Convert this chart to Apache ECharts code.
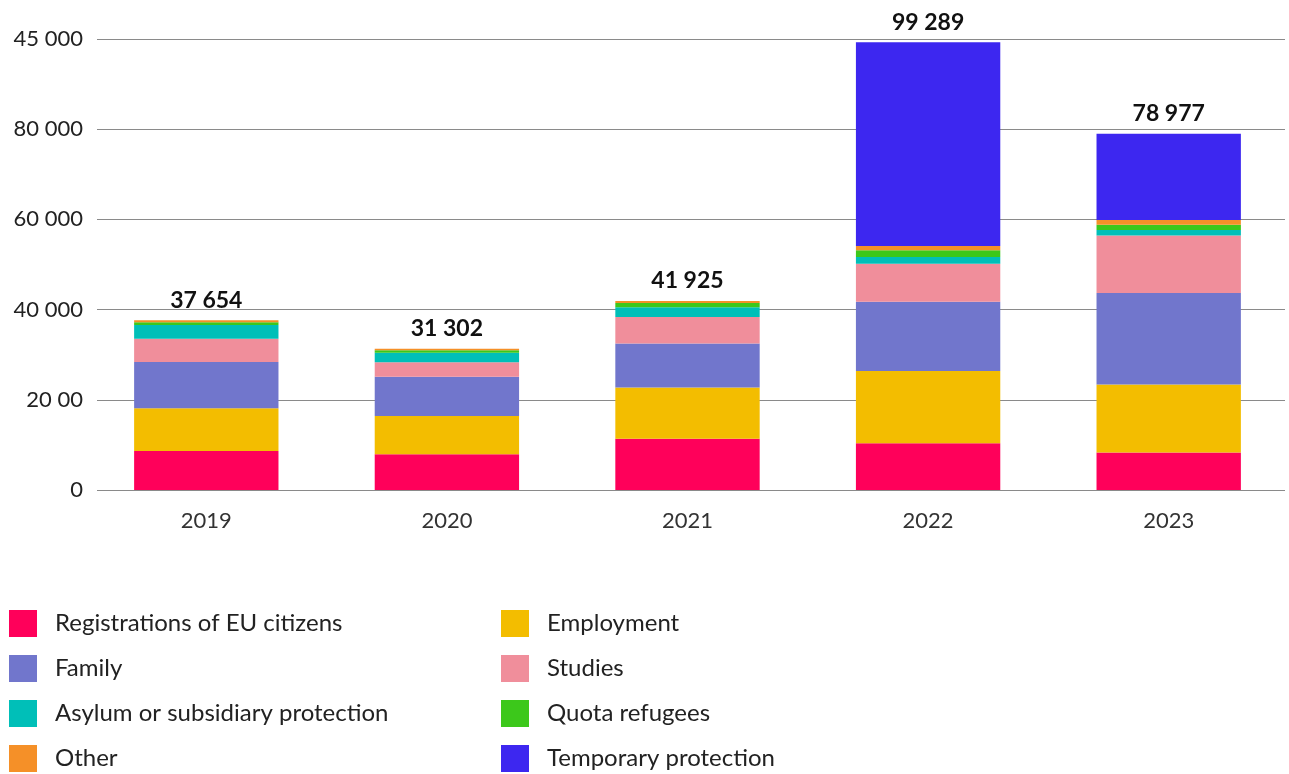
<!DOCTYPE html>
<html>
<head>
<meta charset="utf-8">
<script src="https://cdn.jsdelivr.net/npm/echarts@6/dist/echarts.min.js"></script>
<style>html,body{margin:0;padding:0;background:#fff}#c{width:1289px;height:774px}</style>
</head>
<body>
<div id="c"></div>
<script>
var years = ['2019', '2020', '2021', '2022', '2023'];
var registrations = [8654, 7900, 11345, 10350, 8340];
var employment = [9470, 8520, 11370, 16030, 15080];
var family = [10270, 8680, 9750, 15360, 20260];
var studies = [5170, 3240, 5920, 8420, 12770];
var asylum = [3040, 2080, 2150, 1490, 1200];
var quota = [600, 550, 950, 1490, 1180];
var other = [450, 332, 440, 950, 1040];
var temporary = [0, 0, 0, 45199, 19107];
var totals = [37654, 31302, 41925, 99289, 78977];
var yTickLabels = ['0', '20 00', '40 000', '60 000', '80 000', '45 000'];

var seriesNames = ['Registrations of EU citizens', 'Employment', 'Family', 'Studies',
  'Asylum or subsidiary protection', 'Quota refugees', 'Other', 'Temporary protection'];
var seriesData = [registrations, employment, family, studies, asylum, quota, other, temporary];
var colors = ['#FF005A', '#F3BD00', '#7176CC', '#F08E9B', '#00BFB8', '#3CC81B', '#F59028', '#3D27F0'];

var FONT = 'Lato, "Open Sans", sans-serif';

function fmt(n) {
  return String(n).replace(/\B(?=(\d{3})+(?!\d))/g, ' ');
}

var series = seriesNames.map(function (name, i) {
  return {
    name: name,
    type: 'bar',
    stack: 'total',
    xAxisIndex: 0,
    yAxisIndex: 0,
    barWidth: '60%',
    itemStyle: { color: colors[i] },
    data: seriesData[i]
  };
});
series.push({
  name: 'Total',
  type: 'line',
  xAxisIndex: 0,
  yAxisIndex: 0,
  data: totals,
  symbol: 'circle',
  symbolSize: 1,
  itemStyle: { color: 'rgba(0,0,0,0)' },
  lineStyle: { width: 0, opacity: 0 },
  label: {
    show: true,
    position: 'top',
    distance: 8,
    fontFamily: FONT,
    fontWeight: 'bold',
    fontSize: 23,
    color: '#111',
    formatter: function (p) { return fmt(p.value); }
  },
  z: 10
});

function legendCfg(left, names) {
  return {
    orient: 'vertical',
    left: left,
    top: 610,
    height: 164,
    padding: 0,
    itemWidth: 28,
    itemHeight: 27,
    itemGap: 18,
    icon: 'rect',
    data: names,
    textStyle: { fontFamily: FONT, fontSize: 24, lineHeight: 27, color: '#222', padding: [0, 0, 0, 13] },
    selectedMode: false
  };
}

var chart = echarts.init(document.getElementById('c'), null, { renderer: 'canvas' });
chart.setOption({
  animation: false,
  backgroundColor: '#fff',
  grid: [
    { left: 86, width: 1212, top: 39, height: 451 },
    { left: 97, width: 1188, top: 39, height: 451 }
  ],
  xAxis: [
    {
      type: 'category',
      gridIndex: 0,
      data: years,
      axisLine: { show: false },
      axisTick: { show: false },
      axisLabel: { margin: 20, fontFamily: FONT, fontSize: 22, color: '#333' }
    },
    { type: 'value', gridIndex: 1, show: false, min: 0, max: 1 }
  ],
  yAxis: [
    { type: 'value', gridIndex: 0, min: 0, max: 100000, interval: 20000, show: false },
    {
      type: 'value',
      gridIndex: 1,
      min: 0,
      max: 100000,
      interval: 20000,
      axisLine: { show: false },
      axisTick: { show: false },
      splitLine: { show: true, lineStyle: { color: '#8a8a8a', width: 1 } },
      axisLabel: {
        margin: 14,
        fontFamily: FONT,
        fontSize: 22,
        color: '#222',
        formatter: function (v) { return yTickLabels[Math.round(v / 20000)]; }
      }
    }
  ],
  legend: [
    legendCfg(9, [seriesNames[0], seriesNames[2], seriesNames[4], seriesNames[6]]),
    legendCfg(501, [seriesNames[1], seriesNames[3], seriesNames[5], seriesNames[7]])
  ],
  series: series
});
</script>
</body>
</html>
